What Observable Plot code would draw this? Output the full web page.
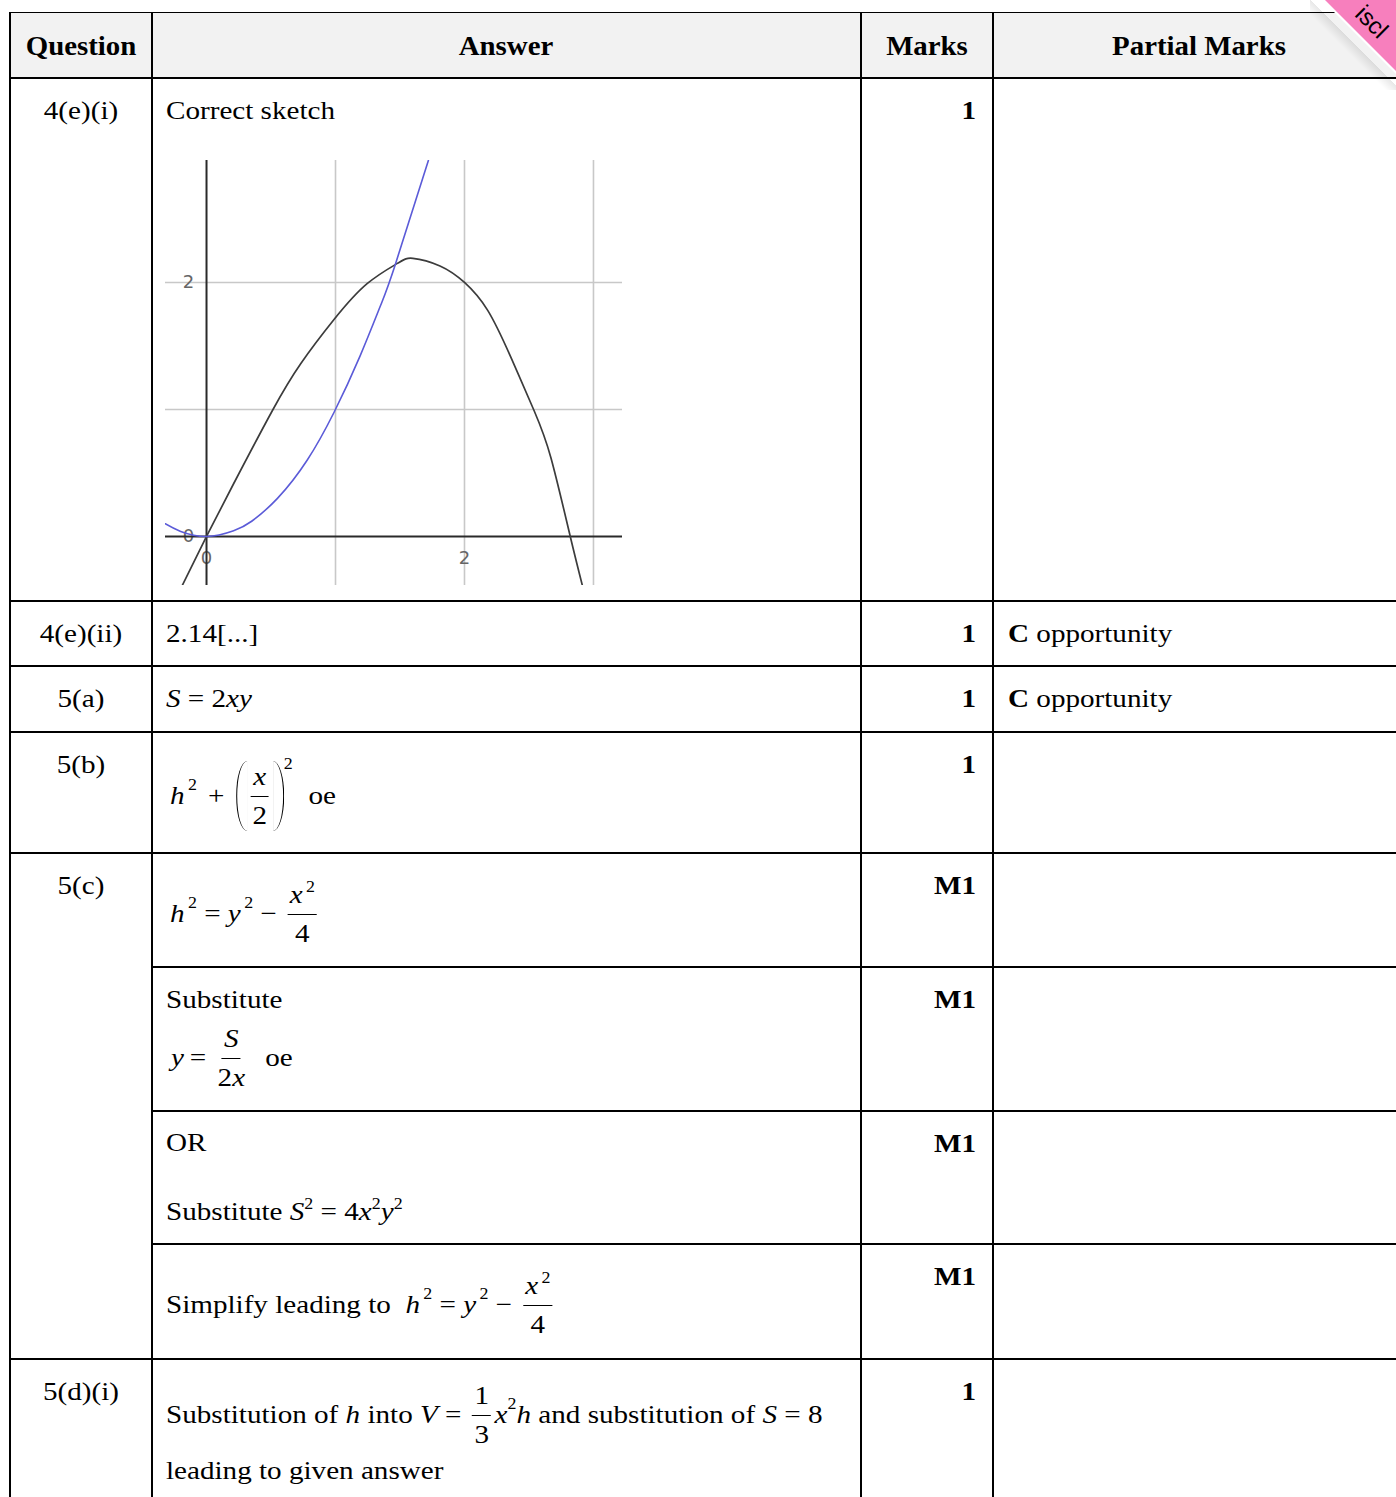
<!DOCTYPE html>
<html><head><meta charset="utf-8">
<script src="https://cdn.jsdelivr.net/npm/d3@7"></script>
<script src="https://cdn.jsdelivr.net/npm/@observablehq/plot@0.6"></script>
<style>
html,body{margin:0;padding:0;background:#fff;}
#page{position:relative;width:1396px;height:1497px;overflow:hidden;font-family:"Liberation Serif","Times New Roman",serif;color:#000;}
.hl{position:absolute;height:2px;background:#000;}
.vl{position:absolute;width:2px;background:#000;}
.t{position:absolute;white-space:nowrap;}
.row{position:absolute;height:26px;display:flex;align-items:center;font-size:26px;line-height:26px;white-space:nowrap;transform-origin:left center;transform:scaleX(1.12);}
.frac{display:inline-flex;flex-direction:column;align-items:center;margin:0 3px;}
.frac .n{border-bottom:1.5px solid #000;padding:0 2px 6px;line-height:26px;}
.frac .d{padding:6px 2px 0;line-height:26px;}
sup{font-size:16px;line-height:0;vertical-align:0;position:relative;top:-11px;}
sup.g{margin-left:3px;}
.lp{display:inline-block;width:9px;height:70px;border-left:1.6px solid #000;border-radius:100% 0 0 100%/50% 0 0 50%;margin-left:8px;}
.rp{display:inline-block;width:9px;height:70px;border-right:1.6px solid #000;border-radius:0 100% 100% 0/0 50% 50% 0;}
#graph{position:absolute;left:165px;top:160px;}
</style>
</head><body>
<div id="page"></div>
<script>
// ---------- data ----------
const headers = ["Question", "Answer", "Marks", "Partial Marks"];
const questionLabels = ["4(e)(i)", "4(e)(ii)", "5(a)", "5(b)", "5(c)", "5(d)(i)"];
const markValues = ["1", "1", "1", "1", "M1", "M1", "M1", "M1", "1"];
const partialWord = "opportunity";
const ribbonText = "iscl";

// sketch: grid lines and tick labels
const gridX = [1, 2, 3];
const gridY = [1, 2];
const tickX = [0, 2];
const tickY = [0, 2];
// black curve
const blackX = [-0.19, 0, 0.21, 0.51, 0.73, 0.99, 1.245, 1.48, 1.6, 1.81, 2.0, 2.18, 2.36, 2.54, 2.67, 2.82, 2.93];
const blackY = [-0.39, 0, 0.415, 0.99, 1.36, 1.71, 1.99, 2.15, 2.19, 2.13, 2.0, 1.78, 1.41, 0.99, 0.62, 0, -0.45];
// blue curve
const blueX = [-0.32, -0.2, 0, 0.21, 0.35, 0.55, 0.78, 0.99, 1.19, 1.35, 1.46, 1.72];
const blueY = [0.10, 0.04, 0, 0.045, 0.12, 0.30, 0.60, 0.98, 1.42, 1.82, 2.13, 2.96];

// ---------- layout ----------
const page = document.getElementById("page");
const colX = [10, 152, 861, 993];

function box(cls, style) {
  const d = document.createElement("div");
  d.className = cls;
  Object.assign(d.style, style);
  page.appendChild(d);
  return d;
}
// header background
box("", {position: "absolute", left: "10px", top: "12px", width: "1390px", height: "65px", background: "#f2f2f2"});
box("", {position: "absolute", left: "10px", top: "12px", width: "1390px", height: "1px", background: "#000"});
// horizontal rules
[[77, 10], [600, 10], [665, 10], [731, 10], [852, 10], [966, 152], [1110, 152], [1243, 152], [1358, 10]]
  .forEach(([y, x0]) => box("hl", {top: y + "px", left: x0 + "px", width: (1400 - x0) + "px"}));
// vertical rules
colX.forEach(x => box("vl", {left: (x - 1) + "px", top: "12px", height: "1490px"}));

function txt(x, base, html, o = {}) {
  const size = o.size || 26;
  const d = document.createElement("div");
  d.className = "t";
  d.style.fontSize = size + "px";
  d.style.lineHeight = size + "px";
  d.style.top = (base - size * 0.8375) + "px";
  if (o.bold) d.style.fontWeight = "bold";
  const sx = o.sx || 1.12;
  if (o.align === "center") {
    d.style.left = (x - 400) + "px"; d.style.width = "800px"; d.style.textAlign = "center"; d.style.transformOrigin = "center";
  } else if (o.align === "right") {
    d.style.left = (x - 800) + "px"; d.style.width = "800px"; d.style.textAlign = "right"; d.style.transformOrigin = "right center";
  } else {
    d.style.left = x + "px"; d.style.transformOrigin = "left center";
  }
  d.style.transform = `scaleX(${sx})`;
  d.innerHTML = html;
  page.appendChild(d);
}
function mrow(x, barY, html) {
  const d = document.createElement("div");
  d.className = "row";
  d.style.left = x + "px";
  d.style.top = (barY - 13) + "px";
  d.innerHTML = html;
  page.appendChild(d);
}
const frac = (n, d) => `<span class="frac"><span class="n">${n}</span><span class="d">${d}</span></span>`;

// header text
const headerCenters = [81, 506, 927, 1199];
headers.forEach((h, i) => txt(headerCenters[i], 55, h, {align: "center", bold: true, size: 28, sx: 1.03}));

// question column
const qBase = [120, 643, 708, 774, 895, 1401];
questionLabels.forEach((q, i) => txt(81, qBase[i], q, {align: "center"}));

// marks column
const mBase = [120, 643, 708, 774, 895, 1009, 1153, 1286, 1401];
markValues.forEach((m, i) => txt(976, mBase[i], m, {align: "right", bold: true}));

// partial marks
[643, 708].forEach(b => txt(1008, b, `<b>C</b> ${partialWord}`));

// answers
txt(166, 120, "Correct sketch");
txt(166, 643, "2.14[...]");
txt(166, 708, "<i>S</i> = 2<i>xy</i>");
mrow(170, 796, `<i>h</i><sup class="g">2</sup><span style="margin:0 2px 0 10px">+</span><span class="lp"></span>${frac("<i>x</i>", "2")}<span class="rp"></span><sup style="top:-32px">2</sup><span style="margin-left:14px">oe</span>`);
mrow(170, 914, `<i>h</i><sup class="g">2</sup>&nbsp;=&nbsp;<i>y</i><sup class="g">2</sup>&nbsp;−&nbsp;${frac("<i>x</i><sup class=\"g\">2</sup>", "4")}`);
txt(166, 1009, "Substitute");
mrow(171, 1058, `<i>y</i>&thinsp;=&thinsp;${frac("<i>S</i>", "2<i>x</i>")}&nbsp;&nbsp;oe`);
txt(166, 1152, "OR");
txt(166, 1221, "Substitute <i>S</i><sup>2</sup> = 4<i>x</i><sup>2</sup><i>y</i><sup>2</sup>");
mrow(166, 1305, `Simplify leading to&nbsp;&nbsp;<i>h</i><sup class="g">2</sup>&nbsp;=&nbsp;<i>y</i><sup class="g">2</sup>&nbsp;−&nbsp;${frac("<i>x</i><sup class=\"g\">2</sup>", "4")}`);
mrow(166, 1415, `Substitution of&nbsp;<i>h</i>&nbsp;into&nbsp;<i>V</i>&nbsp;=&nbsp;${frac("1", "3")}<i>x</i><sup>2</sup><i>h</i>&nbsp;and substitution of&nbsp;<i>S</i>&nbsp;=&nbsp;8`);
txt(166, 1480, "leading to given answer");

// ---------- sketch (Observable Plot) ----------
const blackPts = blackX.map((x, i) => ({x, y: blackY[i]}));
const bluePts = blueX.map((x, i) => ({x, y: blueY[i]}));
const labelFont = {fill: "#666", fontSize: 18, fontFamily: "DejaVu Sans"};
const sketch = Plot.plot({
  width: 457, height: 425,
  marginTop: 0, marginRight: 0, marginBottom: 0, marginLeft: 0,
  x: {domain: [-0.318, 3.225], axis: null},
  y: {domain: [-0.386, 2.96], axis: null},
  style: {background: "#fff", overflow: "hidden"},
  marks: [
    Plot.ruleX(gridX, {stroke: "#c8c8c8", strokeWidth: 1.6}),
    Plot.ruleY(gridY, {stroke: "#c8c8c8", strokeWidth: 1.6}),
    Plot.text(tickY, {x: () => 0, y: d => d, text: d => String(d), dx: -18, ...labelFont}),
    Plot.text(tickX, {x: d => d, y: () => 0, dy: 22, text: d => String(d), ...labelFont}),
    Plot.ruleX([0], {stroke: "#2a2a2a", strokeWidth: 2}),
    Plot.ruleY([0], {stroke: "#2a2a2a", strokeWidth: 2}),
    Plot.line(blackPts, {x: "x", y: "y", curve: "natural", stroke: "#3c3c3c", strokeWidth: 1.7, clip: true}),
    Plot.line(bluePts, {x: "x", y: "y", curve: "natural", stroke: "#5b5bd8", strokeWidth: 1.6, clip: true})
  ]
});
const g = document.createElement("div");
g.id = "graph";
g.appendChild(sketch);
page.appendChild(g);

// ---------- corner ribbon ----------
box("", {position: "absolute", left: "1310px", top: "0px", width: "90px", height: "90px",
  background: "linear-gradient(45deg, rgba(0,0,0,0) 42%, rgba(0,0,0,0.09) 50%, rgba(0,0,0,0) 50.5%)"});
box("", {position: "absolute", left: "1322px", top: "0px", width: "74px", height: "74px",
  background: "#fff", clipPath: "polygon(0 0, 100% 0, 100% 100%)"});
box("", {position: "absolute", left: "1325px", top: "0px", width: "71px", height: "71px",
  background: "#f77fbd", clipPath: "polygon(0 0, 100% 0, 100% 100%)"});
const rib = box("", {position: "absolute", left: "1368px", top: "1px", fontFamily: "'Liberation Sans', Arial, sans-serif",
  fontSize: "24px", lineHeight: "24px", transform: "rotate(45deg)", transformOrigin: "0 0", whiteSpace: "nowrap"});
rib.textContent = ribbonText;
</script>
</body></html>
